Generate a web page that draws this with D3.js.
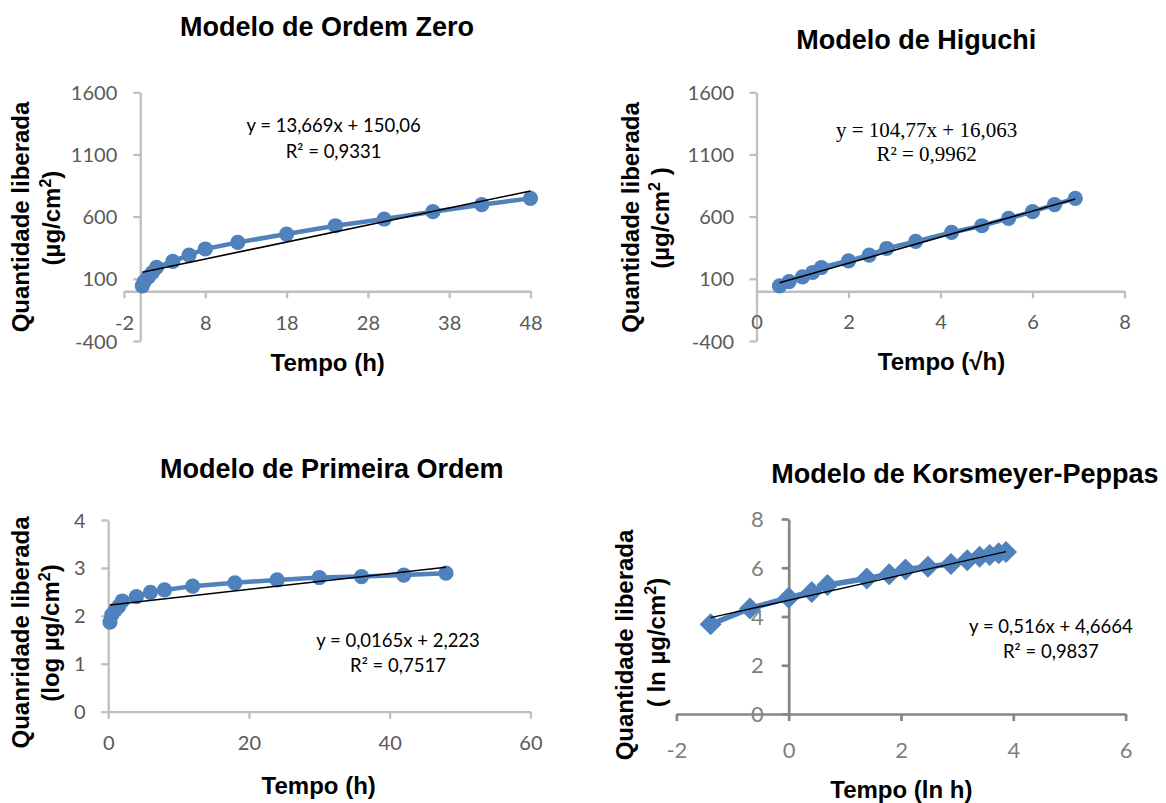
<!DOCTYPE html>
<html><head><meta charset="utf-8">
<script src="https://cdn.jsdelivr.net/npm/d3@7"></script>
<style>body{margin:0;background:#fff} svg{display:block}</style>
</head><body>
<svg id="chart" width="1166" height="803"></svg>
<script>
// ---------- data ----------
const timeH = [0.25, 0.5, 1, 1.5, 2, 4, 6, 8, 12, 18, 24, 30, 36, 42, 48];
const zeroOrderQ = [44, 78, 116, 151, 192, 240, 291, 340, 393, 460, 527, 581, 640, 696, 747];
const sqrtTimeH = [0.5, 0.71, 1, 1.22, 1.41, 2, 2.45, 2.83, 3.46, 4.24, 4.9, 5.48, 6, 6.48, 6.93];
const higuchiQ = [44, 78, 116, 151, 191, 245, 291, 344, 401, 473, 527, 586, 640, 697, 747];
const firstOrderLogQ = [1.87, 2.02, 2.12, 2.2, 2.31, 2.40, 2.49, 2.54, 2.62, 2.69, 2.75, 2.80, 2.82, 2.85, 2.89];
const lnTimeH = [-1.39, -0.69, 0, 0.41, 0.69, 1.39, 1.79, 2.08, 2.48, 2.89, 3.18, 3.40, 3.58, 3.74, 3.87];
const korsmeyerLnQ = [3.68, 4.33, 4.77, 5.01, 5.29, 5.56, 5.73, 5.93, 6.04, 6.15, 6.31, 6.45, 6.52, 6.59, 6.65];

const zeroTicksX = [-2, 8, 18, 28, 38, 48];
const qTicksY = [-400, 100, 600, 1100, 1600];
const higuchiTicksX = [0, 2, 4, 6, 8];
const firstTicksX = [0, 20, 40, 60];
const firstTicksY = [0, 1, 2, 3, 4];
const kpTicksX = [-2, 0, 2, 4, 6];
const kpTicksY = [0, 2, 4, 6, 8];

const zeroFit = [13.669, 150.06];
const higuchiFit = [104.77, 16.063];
const firstFit = [0.0165, 2.223];
const kpFit = [0.516, 4.6664];

const titles = ["Modelo de Ordem Zero", "Modelo de Higuchi", "Modelo de Primeira Ordem", "Modelo de Korsmeyer-Peppas"];
const equations = [
  ["y = 13,669x + 150,06", "R² = 0,9331"],
  ["y = 104,77x + 16,063", "R² = 0,9962"],
  ["y = 0,0165x + 2,223", "R² = 0,7517"],
  ["y = 0,516x + 4,6664", "R² = 0,9837"]
];

// ---------- drawing ----------
const svg = d3.select("#chart");
const BLUE = "#4F81BD";
const SANS = "'Liberation Sans', Arial, sans-serif";
const TICKF = "Lato, 'Open Sans', sans-serif";

function drawPanel(c) {
  const g = svg.append("g");
  const x = d3.scaleLinear().domain(c.xDomain).range(c.xRange);
  const y = d3.scaleLinear().domain(c.yDomain).range(c.yRange);
  const ax0 = x(0), ay0 = y(0);

  const xa = g.append("g").attr("transform", `translate(0,${ay0})`)
    .call(d3.axisBottom(x).tickValues(c.xTicks).tickSize(7).tickSizeOuter(0).tickFormat(d => String(d)));
  const ya = g.append("g").attr("transform", `translate(${ax0},0)`)
    .call(d3.axisLeft(y).tickValues(c.yTicks).tickSize(7).tickSizeOuter(0).tickFormat(d => String(d)));
  [xa, ya].forEach(a => {
    a.select(".domain").attr("stroke", c.axisColor).attr("stroke-width", c.axisWidth);
    a.selectAll(".tick line").attr("stroke", c.axisColor).attr("stroke-width", c.axisWidth);
    a.selectAll("text").attr("fill", c.labelColor).style("font-family", TICKF).style("font-size", c.labelSize + "px");
  });
  xa.selectAll("text").attr("y", c.xLabelOffset).attr("dy", "0.35em");
  ya.selectAll("text").attr("x", -c.yLabelGap).attr("dy", "0.35em");
  ya.selectAll(".tick text").lower();
  xa.raise();

  const pts = c.xs.map((v, i) => [v, c.ys[i]]);
  g.append("path").datum(pts)
    .attr("d", d3.line().x(d => x(d[0])).y(d => y(d[1])))
    .attr("fill", "none").attr("stroke", BLUE).attr("stroke-width", c.lineWidth)
    .attr("stroke-linejoin", "round").attr("stroke-linecap", "round");
  if (c.marker === "diamond") {
    const s = c.markerSize;
    g.selectAll("path.mk").data(pts).enter().append("path").attr("class", "mk")
      .attr("d", d => `M${x(d[0])},${y(d[1]) - s}L${x(d[0]) + s},${y(d[1])}L${x(d[0])},${y(d[1]) + s}L${x(d[0]) - s},${y(d[1])}Z`)
      .attr("fill", BLUE);
  } else {
    g.selectAll("circle").data(pts).enter().append("circle")
      .attr("cx", d => x(d[0])).attr("cy", d => y(d[1])).attr("r", c.markerSize).attr("fill", BLUE);
  }
  const x1 = d3.min(c.xs), x2 = d3.max(c.xs);
  g.append("line")
    .attr("x1", x(x1)).attr("y1", y(c.fit[0] * x1 + c.fit[1]))
    .attr("x2", x(x2)).attr("y2", y(c.fit[0] * x2 + c.fit[1]))
    .attr("stroke", "#000").attr("stroke-width", c.trendWidth);

  const eq = g.append("text").attr("text-anchor", "middle").attr("fill", "#000")
    .style("font-family", c.eqFont).style("font-size", c.eqSize + "px");
  eq.append("tspan").attr("x", c.eqX).attr("y", c.eqY[0]).text(c.eq[0]);
  eq.append("tspan").attr("x", c.eqX).attr("y", c.eqY[1]).text(c.eq[1]);

  g.append("text").attr("x", c.titleX).attr("y", c.titleY).attr("text-anchor", "middle")
    .style("font-family", SANS).style("font-weight", "bold").style("font-size", "27px").attr("fill", "#000")
    .text(c.title);
  g.append("text").attr("x", c.xTitleX).attr("y", c.xTitleY).attr("text-anchor", "middle")
    .style("font-family", SANS).style("font-weight", "bold").style("font-size", "24px").attr("fill", "#000")
    .text(c.xTitle);
  g.append("text").attr("transform", `translate(${c.yTitleX[0]},${c.yTitleY[0]}) rotate(-90)`)
    .attr("text-anchor", "middle")
    .style("font-family", SANS).style("font-weight", "bold").style("font-size", "24px").attr("fill", "#000")
    .text(c.yTitle[0]);
  const t2 = g.append("text").attr("transform", `translate(${c.yTitleX[1]},${c.yTitleY[1]}) rotate(-90)`)
    .attr("text-anchor", "middle")
    .style("font-family", SANS).style("font-weight", "bold").style("font-size", "24px").attr("fill", "#000");
  t2.append("tspan").text(c.yTitle[1]);
  t2.append("tspan").attr("dy", -9).style("font-size", "16px").text("2");
  t2.append("tspan").attr("dy", 9).text(c.yTitle[2]);
}

const common13 = { axisColor: "#BFBFBF", axisWidth: 2.3, labelColor: "#595959", labelSize: 20,
  lineWidth: 4.5, marker: "circle", markerSize: 7.6, trendWidth: 1.6, eqFont: TICKF, eqSize: 18.5 };

drawPanel(Object.assign({}, common13, {
  xDomain: [-2, 48], xRange: [124, 530.5], yDomain: [-400, 1600], yRange: [341, 92.3],
  xTicks: zeroTicksX, yTicks: qTicksY, xLabelOffset: 32, yLabelGap: 23,
  xs: timeH, ys: zeroOrderQ, fit: zeroFit, eq: equations[0], eqX: 333.6, eqY: [131.5, 158],
  title: titles[0], titleX: 327, titleY: 36,
  xTitle: "Tempo (h)", xTitleX: 327.7, xTitleY: 370.5,
  yTitle: ["Quantidade liberada", "(µg/cm", ")"], yTitleX: [29, 60], yTitleY: [217, 218]
}));

drawPanel(Object.assign({}, common13, {
  xDomain: [0, 8], xRange: [756.5, 1124.5], yDomain: [-400, 1600], yRange: [341, 92.3],
  xTicks: higuchiTicksX, yTicks: qTicksY, xLabelOffset: 31, yLabelGap: 22.5,
  xs: sqrtTimeH, ys: higuchiQ, fit: higuchiFit, eq: equations[1], eqX: 926.6, eqY: [136.5, 161],
  eqFont: "'Liberation Serif', 'Times New Roman', serif", eqSize: 21,
  title: titles[1], titleX: 916.3, titleY: 49.3,
  xTitle: "Tempo (√h)", xTitleX: 941.5, xTitleY: 370,
  yTitle: ["Quantidade liberada", "(µg/cm", " )"], yTitleX: [639, 669], yTitleY: [217.5, 218]
}));

drawPanel(Object.assign({}, common13, {
  xDomain: [0, 60], xRange: [108.2, 530.4], yDomain: [0, 4], yRange: [711.7, 520],
  xTicks: firstTicksX, yTicks: firstTicksY, xLabelOffset: 31, yLabelGap: 22.5,
  xs: timeH, ys: firstOrderLogQ, fit: firstFit, eq: equations[2], eqX: 398, eqY: [646.5, 672.3],
  title: titles[2], titleX: 331.8, titleY: 478,
  xTitle: "Tempo (h)", xTitleX: 318.7, xTitleY: 794,
  yTitle: ["Quanridade liberada", "(log µg/cm", ")"], yTitleX: [29, 59], yTitleY: [632.5, 633]
}));

drawPanel({
  axisColor: "#868686", axisWidth: 2.7, labelColor: "#7F7F7F", labelSize: 22,
  lineWidth: 5.5, marker: "diamond", markerSize: 11, trendWidth: 1.3, eqFont: TICKF, eqSize: 18.5,
  xDomain: [-2, 6], xRange: [676.4, 1125.6], yDomain: [0, 8], yRange: [714, 519],
  xTicks: kpTicksX, yTicks: kpTicksY, xLabelOffset: 36.5, yLabelGap: 25,
  xs: lnTimeH, ys: korsmeyerLnQ, fit: kpFit, eq: equations[3], eqX: 1050.9, eqY: [632.5, 658.3],
  title: titles[3], titleX: 964.9, titleY: 483.3,
  xTitle: "Tempo (ln h)", xTitleX: 901.4, xTitleY: 798,
  yTitle: ["Quantidade liberada", "( ln µg/cm", ")"], yTitleX: [633, 665], yTitleY: [645, 642.5]
});
</script>
</body></html>
